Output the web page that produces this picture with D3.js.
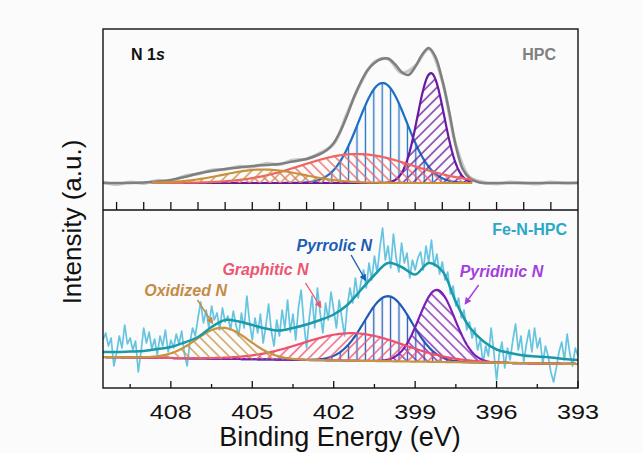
<!DOCTYPE html>
<html>
<head>
<meta charset="utf-8">
<script src="https://cdn.jsdelivr.net/npm/d3@7"></script>
<style>
  body { margin: 0; background: #fbfbfb; }
  text { font-family: "Liberation Sans", Arial, sans-serif; }
</style>
</head>
<body>
<div class="chart"></div>
<script>
// ---- data (binding energy in eV, intensity in a.u.) ----
const energyDomain = [410.5, 393];
const majorTicks = [408, 405, 402, 399, 396, 393];
const minorTicks = [409.5, 406.5, 403.5, 400.5, 397.5, 394.5];
const topTicks = [410, 409, 408, 407, 406, 405, 404, 403, 402, 401, 400, 399, 398, 397, 396, 395, 394];

// HPC fit components: centre, FWHM, height (drawn in this order)
const hpcPeaks = [
  { name: "Pyrrolic N",  center: 400.2,  fwhm: 2.1,  height: 100 },
  { name: "Pyridinic N", center: 398.42, fwhm: 1.16, height: 110 },
  { name: "Graphitic N", center: 401.15, fwhm: 4.8,  height: 29 },
  { name: "Oxidized N",  center: 404.6,  fwhm: 3.5,  height: 13.5 }
];
const hpcFitRange = [408.7, 396.9];
const hpcEnvelope = [
  [410.5, 0], [410, 0], [409.5, 0], [409, 0.5], [408.5, 1.5], [408, 3], [407.5, 6], [407, 9.5],
  [406.5, 12], [406, 14], [405.5, 15.5], [405, 17], [404.5, 18], [404, 19], [403.5, 21.5], [403, 24],
  [402.5, 29], [402.25, 33], [402, 40], [401.75, 52], [401.5, 68], [401.25, 86], [401, 101],
  [400.75, 113], [400.5, 120], [400.25, 124], [400, 124.5], [399.75, 119], [399.5, 111], [399.25, 108],
  [399, 116], [398.75, 128], [398.5, 135], [398.25, 126], [398, 103], [397.75, 72], [397.5, 37],
  [397.25, 14], [397, 5], [396.75, 1.5], [396.5, 0], [396, 0], [395, 0], [394, 0], [393, 0]
];
const hpcRaw = [
  [410.5, 1], [410, -1.5], [409.5, 1], [409, -0.5], [408.5, 2.5], [408, 2], [407.5, 7], [407, 9],
  [406.5, 13], [406, 13.5], [405.5, 16.5], [405, 16], [404.5, 19.5], [404, 18.5], [403.5, 23], [403, 24],
  [402.5, 30], [402, 39], [401.5, 70], [401, 100], [400.5, 121], [400, 124], [399.5, 110], [399, 117],
  [398.5, 134], [398, 102], [397.5, 38], [397, 6], [396.5, 1], [396, -1], [395.5, 1], [395, 0],
  [394.5, -1], [394, 1], [393.5, 0], [393, 0.5]
];

// Fe-N-HPC fit components (drawn in this order)
const fePeaks = [
  { name: "Pyrrolic N",  center: 400.0, fwhm: 2.05, height: 65 },
  { name: "Pyridinic N", center: 398.2, fwhm: 1.55, height: 72 },
  { name: "Graphitic N", center: 401.3, fwhm: 4.4,  height: 27.5 },
  { name: "Oxidized N",  center: 406.1, fwhm: 2.3,  height: 31 }
];
const feBackground = [[410.5, 1], [393, -6]];
const feEnvelope = [
  [410.5, 6], [410, 6], [409.5, 6.5], [409, 7], [408.5, 9], [408, 11], [407.5, 15.5], [407, 21],
  [406.5, 31], [406, 38], [405.5, 36.5], [405, 33], [404.5, 29.5], [404, 27.5], [403.5, 30], [403, 33.5],
  [402.5, 38], [402, 43.5], [401.5, 53], [401, 68], [400.5, 83], [400, 95], [399.5, 91], [399, 83.5],
  [398.5, 95], [398, 87], [397.5, 56], [397, 31], [396.5, 17], [396, 8.5], [395.5, 5], [395, 2.5],
  [394.5, 1.5], [394, 0.5], [393.5, -1], [393, -2]
];
// raw counts, 410.5 eV down to 393.0 eV in 0.1 eV steps
const feRawStart = 410.5, feRawStep = 0.1;
const feRaw = [
  18, 25, 12, 20, -8, 5, 22, 10, 33, 14, 20, 8, 17, -14, 6, 30, 15, 26, 9, 19, 3, 22, 12, 28, 6, 18,
  10, 24, 14, 27, 4, -8, 15, 30, 22, 40, 56, 35, 48, 30, 52, 38, 45, 28, 50, 36,
  42, 28, 47, 33, 22, 45, 30, 62, 36, 18, 40, 25, 44, 15, 32, 54, 27, 12, 38, 22, 48, 30, 58, 26, 44, 18, 50, 68, 35, 10,
  40, 62, 30, 70, 45, 25, 55, 38, 66, 48, 30, 58, 40, 22, 52, 70, 55, 80, 60, 75,
  88, 70, 95, 78, 102, 85, 110, 130, 98, 112, 90, 124, 100, 86, 115, 95, 105, 80, 98, 88,
  100, 106, 88, 112, 96, 118, 92, 104, 84, 96, 78, 86, 64, 72, 52, 60, 40, 48, 28, 36,
  20, 30, 8, 18, -5, 12, 2, 30, 6, -22, 4, 16, -10, 10, -2, 18, 34, 8, 22, -4,
  14, 28, 6, 30, 10, 20, -6, 12, 2, -14, -24, -10, 6, 16, -2, 24, 4, -8, 10, 2
];

// annotation anchors (energy, intensity) for the Fe-N-HPC labels
const feLabels = [
  { name: "Pyrrolic N",  at: [403.37, 107],  from: [401.36, 103], to: [400.83, 78],  color: "#1d5db4" },
  { name: "Graphitic N", at: [406.1, 83],    from: [403.04, 75],  to: [402.48, 51],  color: "#ee5573" },
  { name: "Oxidized N",  at: [408.98, 62.3], from: [407.02, 58],  to: [406.47, 35],  color: "#c48b47" },
  { name: "Pyridinic N", at: [397.36, 81],   from: [396.66, 73],  to: [397.15, 54.5], color: "#a33fdc" }
];

// ---- drawing ----
const w = 643, h = 453,
    pLeft = 103, pRight = 578, pTop = 29, pMid = 210, pBottom = 388;

const hpcStyle = {
  "Oxidized N":  { color: "#c8903a", angle: 45 },
  "Graphitic N": { color: "#f06464", angle: -45 },
  "Pyrrolic N":  { color: "#1c6fc4", angle: 0 },
  "Pyridinic N": { color: "#6a1aa0", angle: 45 }
};
const feStyle = {
  "Oxidized N":  { color: "#c89440", angle: -45 },
  "Graphitic N": { color: "#f0506e", angle: 45 },
  "Pyrrolic N":  { color: "#1f5bb5", angle: 0 },
  "Pyridinic N": { color: "#7a1fb5", angle: -45 }
};

const x = d3.scaleLinear().domain(energyDomain).range([pLeft, pRight]);
const yTop = d3.scaleLinear().domain([-27, 154]).range([pMid, pTop]);
const yBot = d3.scaleLinear().domain([-30, 148]).range([pBottom, pMid]);
const feBg = d3.scaleLinear().domain(feBackground.map(d => d[0])).range(feBackground.map(d => d[1]));

function gauss(p, e) {
  const t = (e - p.center) / p.fwhm;
  return p.height * Math.exp(-4 * Math.LN2 * t * t);
}

const svg = d3.select(".chart").append("svg")
    .attr("width", w)
    .attr("height", h)
    .style("display", "block");

const defs = svg.append("defs");
defs.append("clipPath").attr("id", "clipTop")
    .append("rect").attr("x", pLeft).attr("y", pTop).attr("width", pRight - pLeft).attr("height", pMid - pTop);
defs.append("clipPath").attr("id", "clipBot")
    .append("rect").attr("x", pLeft).attr("y", pMid).attr("width", pRight - pLeft).attr("height", pBottom - pMid);

function hatch(id, color, angle) {
  const size = angle === 0 ? 8.4 : 7.2;
  const p = defs.append("pattern")
      .attr("id", id)
      .attr("patternUnits", "userSpaceOnUse")
      .attr("width", size)
      .attr("height", size)
      .attr("patternTransform", "rotate(" + angle + ")");
  p.append("line")
      .attr("x1", size / 2).attr("y1", -1)
      .attr("x2", size / 2).attr("y2", size + 1)
      .attr("stroke", color)
      .attr("stroke-width", 1.3);
}

function arrowHead(id, color) {
  defs.append("marker")
      .attr("id", id).attr("viewBox", "0 0 10 10")
      .attr("refX", 8).attr("refY", 5)
      .attr("markerWidth", 5).attr("markerHeight", 5)
      .attr("orient", "auto")
      .append("path").attr("d", "M0,0L10,5L0,10z").attr("fill", color);
}

const smooth = (yScale) => d3.line()
    .x(d => x(d[0]))
    .y(d => yScale(d[1]))
    .curve(d3.curveCatmullRom.alpha(0.5));

// ---- top panel: HPC ----
const gTop = svg.append("g").attr("clip-path", "url(#clipTop)");

gTop.append("path")
    .datum(hpcRaw)
    .attr("d", smooth(yTop))
    .attr("fill", "none")
    .attr("stroke", "#c9c9c9")
    .attr("stroke-width", 3.2);

gTop.append("path")
    .datum(hpcEnvelope)
    .attr("d", smooth(yTop))
    .attr("fill", "none")
    .attr("stroke", "#7f7f7f")
    .attr("stroke-width", 2.5);

const hpcE = d3.range(hpcFitRange[0], hpcFitRange[1] - 0.001, -0.05);
hpcPeaks.forEach((p, i) => {
  const st = hpcStyle[p.name];
  hatch("hp" + i, st.color, st.angle);
  const pts = hpcE.map(e => [e, gauss(p, e)]);
  gTop.append("path")
      .datum(pts)
      .attr("d", d3.area().x(d => x(d[0])).y0(yTop(0)).y1(d => yTop(d[1])))
      .attr("fill", "url(#hp" + i + ")");
  gTop.append("path")
      .datum(pts)
      .attr("d", d3.line().x(d => x(d[0])).y(d => yTop(d[1])))
      .attr("fill", "none")
      .attr("stroke", st.color)
      .attr("stroke-width", 2.2);
});

// ---- bottom panel: Fe-N-HPC ----
const gBot = svg.append("g").attr("clip-path", "url(#clipBot)");

gBot.append("path")
    .datum(feRaw.map((v, i) => [feRawStart - i * feRawStep, v]))
    .attr("d", d3.line().x(d => x(d[0])).y(d => yBot(d[1])))
    .attr("fill", "none")
    .attr("stroke", "#66c4e0")
    .attr("stroke-width", 1.7)
    .attr("stroke-linejoin", "round");

const feE = d3.range(energyDomain[0], energyDomain[1] - 0.001, -0.05);
fePeaks.forEach((p, i) => {
  const st = feStyle[p.name];
  hatch("fp" + i, st.color, st.angle);
  const pts = feE.map(e => [e, feBg(e), feBg(e) + gauss(p, e)]);
  gBot.append("path")
      .datum(pts)
      .attr("d", d3.area().x(d => x(d[0])).y0(d => yBot(d[1])).y1(d => yBot(d[2])))
      .attr("fill", "url(#fp" + i + ")");
  gBot.append("path")
      .datum(pts)
      .attr("d", d3.line().x(d => x(d[0])).y(d => yBot(d[2])))
      .attr("fill", "none")
      .attr("stroke", st.color)
      .attr("stroke-width", 2.2);
});

gBot.append("path")
    .datum(feEnvelope)
    .attr("d", smooth(yBot))
    .attr("fill", "none")
    .attr("stroke", "#1a9aa8")
    .attr("stroke-width", 2.5);

// labels + arrows
feLabels.forEach((l, i) => {
  arrowHead("arr" + i, l.color);
  svg.append("text")
      .attr("x", x(l.at[0]))
      .attr("y", yBot(l.at[1]))
      .attr("fill", l.color)
      .attr("font-size", 16)
      .attr("font-weight", "bold")
      .attr("font-style", "italic")
      .text(l.name);
  svg.append("line")
      .attr("x1", x(l.from[0])).attr("y1", yBot(l.from[1]))
      .attr("x2", x(l.to[0])).attr("y2", yBot(l.to[1]))
      .attr("stroke", l.color)
      .attr("stroke-width", 1.4)
      .attr("marker-end", "url(#arr" + i + ")");
});

// ---- frame, ticks, texts ----
svg.append("rect")
    .attr("x", pLeft).attr("y", pTop)
    .attr("width", pRight - pLeft).attr("height", pBottom - pTop)
    .attr("fill", "none")
    .attr("stroke", "#111")
    .attr("stroke-width", 1.4);
svg.append("line")
    .attr("x1", pLeft).attr("x2", pRight)
    .attr("y1", pMid).attr("y2", pMid)
    .attr("stroke", "#111")
    .attr("stroke-width", 1.4);

svg.selectAll(".ttick").data(topTicks).enter().append("line")
    .attr("class", "ttick")
    .attr("x1", d => x(d)).attr("x2", d => x(d))
    .attr("y1", pMid).attr("y2", pMid - 8)
    .attr("stroke", "#111").attr("stroke-width", 1.3);

svg.selectAll(".mtick").data(majorTicks).enter().append("line")
    .attr("class", "mtick")
    .attr("x1", d => x(d)).attr("x2", d => x(d))
    .attr("y1", pBottom).attr("y2", pBottom - 7)
    .attr("stroke", "#111").attr("stroke-width", 1.3);
svg.selectAll(".ntick").data(minorTicks).enter().append("line")
    .attr("class", "ntick")
    .attr("x1", d => x(d)).attr("x2", d => x(d))
    .attr("y1", pBottom).attr("y2", pBottom - 4)
    .attr("stroke", "#111").attr("stroke-width", 1.3);

svg.selectAll(".tlabel").data(majorTicks).enter().append("g")
    .attr("class", "tlabel")
    .attr("transform", d => "translate(" + x(d) + "," + 419 + ") scale(1.2,1)")
    .append("text")
    .attr("text-anchor", "middle")
    .attr("font-size", 21)
    .attr("fill", "#111")
    .text(d => d);

svg.append("text")
    .attr("x", 340).attr("y", 446)
    .attr("text-anchor", "middle")
    .attr("font-size", 27)
    .attr("fill", "#111")
    .text("Binding Energy (eV)");

svg.append("text")
    .attr("transform", "translate(81,222) rotate(-90)")
    .attr("text-anchor", "middle")
    .attr("font-size", 26)
    .attr("fill", "#111")
    .text("Intensity (a.u.)");

const n1s = svg.append("text")
    .attr("x", 131).attr("y", 60)
    .attr("font-size", 16)
    .attr("font-weight", "bold")
    .attr("fill", "#111");
n1s.append("tspan").text("N 1");
n1s.append("tspan").attr("font-style", "italic").text("s");

svg.append("text")
    .attr("x", 556).attr("y", 60)
    .attr("text-anchor", "end")
    .attr("font-size", 16)
    .attr("font-weight", "bold")
    .attr("fill", "#808080")
    .text("HPC");

svg.append("text")
    .attr("x", 567).attr("y", 235)
    .attr("text-anchor", "end")
    .attr("font-size", 16)
    .attr("font-weight", "bold")
    .attr("fill", "#2aa8c8")
    .text("Fe-N-HPC");
</script>
</body>
</html>
